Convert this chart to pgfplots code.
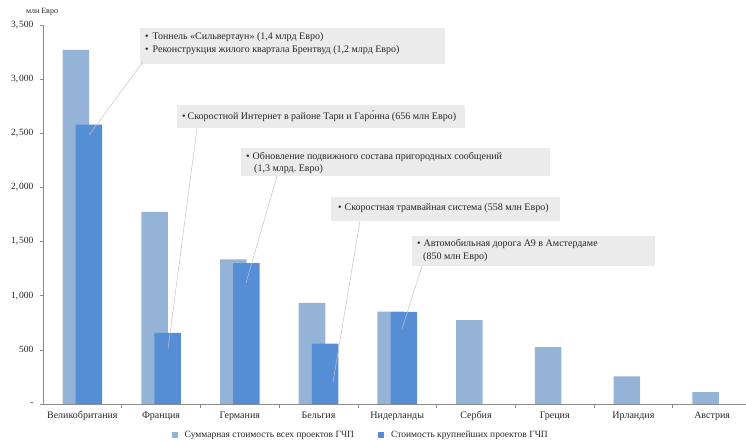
\documentclass[border=0pt]{standalone}
\usepackage{fontspec}
\setmainfont{Liberation Serif}
\usepackage{pgfplots}
\pgfplotsset{compat=1.18}
\frenchspacing
\definecolor{allppp}{HTML}{95B3D7}
\definecolor{topppp}{HTML}{558ED5}
\definecolor{callout}{HTML}{EBEBEB}
\definecolor{leader}{HTML}{C4C4C4}
\definecolor{axisgray}{HTML}{8C8C8C}
\definecolor{txt}{HTML}{262626}

% total value of all PPP projects, by country (million EUR)
\pgfplotstableread{
x     y
-0.083 3270
0.917 1775
1.917 1335
2.917 935
3.917 852
4.917 775
5.917 525
6.917 255
7.917 110
}\allprojects
% value of the largest PPP projects
\pgfplotstableread{
x     y
0.083 2580
1.083 656
2.083 1300
3.083 558
4.083 850
}\largestprojects

\newcommand{\thsd}[2]{#1,\kern1pt#2}

\begin{document}
\begin{tikzpicture}[x=1pt,y=1pt]
\path[use as bounding box] (0,0) rectangle (746,441);
\begin{axis}[
  at={(43pt,37pt)}, anchor=south west,
  scale only axis, width=703pt, height=379pt,
  xmin=-0.5, xmax=8.43, ymin=0, ymax=3500,
  axis lines*=left,
  axis line style={axisgray, line width=0.6pt, -},
  ybar, bar width=0.337,
  xtick={0,...,8},
  xticklabels={Великобритания,Франция,Германия,Бельгия,Нидерланды,Сербия,Греция,Ирландия,Австрия},
  major x tick style={draw=none},
  minor xtick={0.5,1.5,...,7.5},
  minor tick length=4pt,
  minor x tick style={axisgray, line width=0.6pt},
  ytick={0,500,...,3500},
  yticklabels={-,500,\thsd{1}{000},\thsd{1}{500},\thsd{2}{000},\thsd{2}{500},\thsd{3}{000},\thsd{3}{500}},
  y tick style={axisgray, line width=0.6pt},
  major tick length=3pt,
  tick align=outside,
  xticklabel style={font=\fontsize{10}{12}\selectfont, text=txt, yshift=-1pt},
  yticklabel style={font=\fontsize{9.5}{11}\selectfont, text=txt, xshift=-3pt},
  legend style={at={(0.452,-0.082)}, anchor=center, draw=none, fill=none,
    legend columns=2, font=\fontsize{9.5}{11}\selectfont, text=txt,
    /tikz/every even column/.append style={column sep=22pt}},
  legend image code/.code={\fill[#1] (0pt,-3pt) rectangle (6pt,3pt); \path (0pt,0pt) -- (11pt,0pt);},
]
\addplot[fill=allppp, draw=none, bar shift=0pt] table[x=x,y=y]{\allprojects};
\addlegendentry{Суммарная стоимость всех проектов ГЧП}
\addplot[fill=topppp, draw=none, bar shift=0pt] table[x=x,y=y]{\largestprojects};
\addlegendentry{Стоимость крупнейших проектов ГЧП}
\end{axis}

\node[font=\fontsize{8}{10}\selectfont, text=txt] at (42,429) {млн Евро};

% callouts with leader lines
\begin{scope}[every node/.style={font=\fontsize{10}{12}\selectfont, text=txt, anchor=west, inner sep=0pt}]
\fill[callout] (140,377) rectangle (445,413);
\draw[leader, line width=0.5pt] (89,306) -- (143,379);
\node at (145,404) {•\hspace{4pt}Тоннель «Сильвертаун» (1,4 млрд Евро)};
\node at (145,391) {•\hspace{4pt}Реконструкция жилого квартала Брентвуд (1,2 млрд Евро)};

\fill[callout] (177,313) rectangle (465,336);
\draw[leader, line width=0.5pt] (168,92) -- (197,313);
\node at (182,325) {•\hspace{2pt}Скоростной Интернет в районе Тари и Гаро́нна (656 млн Евро)};

\fill[callout] (241,265) rectangle (550,293);
\draw[leader, line width=0.5pt] (246,158) -- (277,265);
\node at (246,284) {•\hspace{3pt}Обновление подвижного состава пригородных сообщений};
\node at (254,272) {(1,3 млрд. Евро)};

\fill[callout] (331,220) rectangle (560,244);
\draw[leader, line width=0.5pt] (333,59) -- (360,220);
\node at (338,233) {•\hspace{3pt}Скоростная трамвайная система (558 млн Евро)};

\fill[callout] (412,175) rectangle (655,205);
\draw[leader, line width=0.5pt] (402,112) -- (422,175);
\node at (417,197) {•\hspace{3pt}Автомобильная дорога А9 в Амстердаме};
\node at (423,184) {(850 млн Евро)};
\end{scope}
\end{tikzpicture}
\end{document}
